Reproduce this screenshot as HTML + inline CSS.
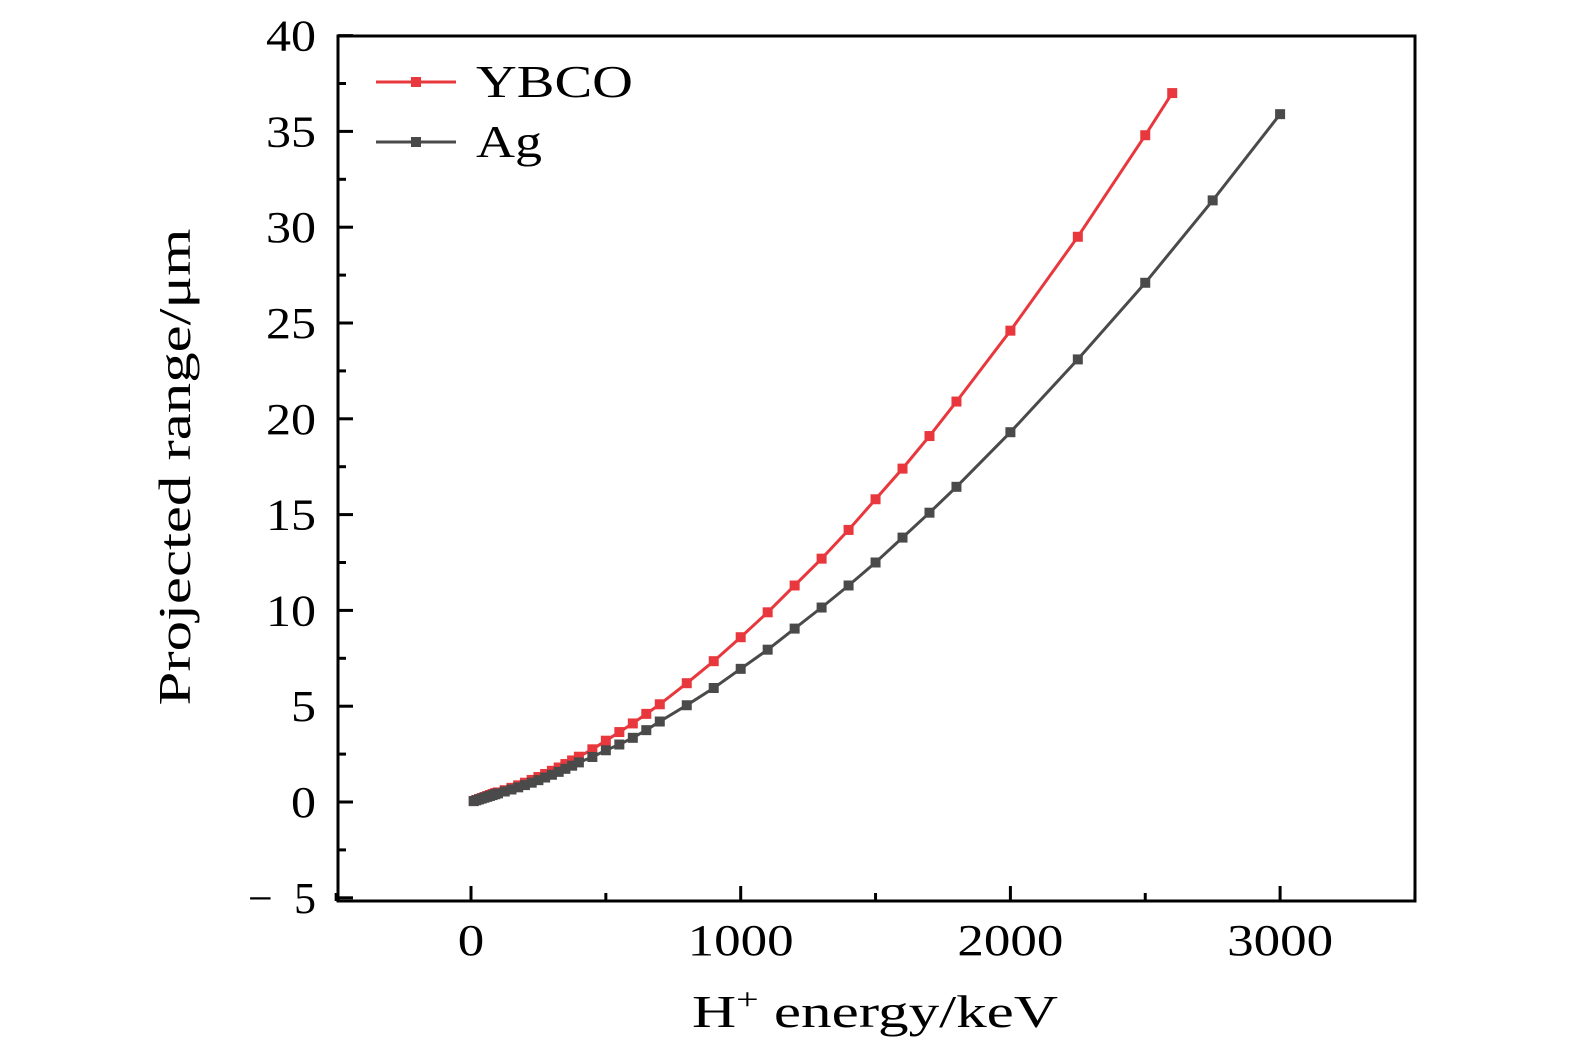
<!DOCTYPE html>
<html><head><meta charset="utf-8"><style>
html,body{margin:0;padding:0;background:#fff;}
svg{display:block;font-family:"Liberation Serif",serif;}
</style></head><body>
<svg id="s" width="1575" height="1053" viewBox="0 0 1575 1053" xmlns="http://www.w3.org/2000/svg"></svg>
<script>
const s=document.getElementById('s');
const X=v=>471+v*0.2697, Y=v=>802-v*19.16;
let h='';
h+='<rect x="338" y="36" width="1077" height="865" fill="none" stroke="#000" stroke-width="3"/>';
for(let v=-5;v<=40;v+=2.5){const y=Y(v);const maj=(v%5===0);h+=`<line x1="338" x2="${338+(maj?15:8)}" y1="${y}" y2="${y}" stroke="#000" stroke-width="3"/>`;
if(maj&&v>-5){const t=String(v);h+=`<text x="316" y="${y+15}" font-size="44" text-anchor="end" textLength="${t.length*25}" lengthAdjust="spacingAndGlyphs">${t}</text>`;}}
h+=`<text x="316" y="${Y(-5)+15}" font-size="44" text-anchor="end" textLength="68" lengthAdjust="spacing">−5</text>`;
for(let v=-500;v<=3500;v+=500){const x=X(v);const maj=(v%1000===0);h+=`<line x1="${x}" x2="${x}" y1="901" y2="${901-(maj?15:8)}" stroke="#000" stroke-width="3"/>`;
if(maj&&v>=0){const t=String(v);h+=`<text x="${x}" y="955" font-size="44" text-anchor="middle" textLength="${t.length*26.5}" lengthAdjust="spacingAndGlyphs">${t}</text>`;}}
h+=`<text x="875" y="1027" font-size="46" text-anchor="middle" textLength="366" lengthAdjust="spacingAndGlyphs">H<tspan dy="-18" font-size="30">+</tspan><tspan dy="18"> energy/keV</tspan></text>`;
h+=`<text transform="translate(190,467) rotate(-90)" font-size="46" text-anchor="middle" textLength="477" lengthAdjust="spacingAndGlyphs">Projected range/μm</text>`;
const yb=[[450,2.75],[500,3.2],[550,3.65],[600,4.1],[650,4.6],[700,5.1],[800,6.2],[900,7.35],[1000,8.6],[1100,9.9],[1200,11.3],[1300,12.7],[1400,14.2],[1500,15.8],[1600,17.4],[1700,19.1],[1800,20.9],[2000,24.6],[2250,29.5],[2500,34.8],[2600,37.0]];
const ag=[[450,2.35],[500,2.7],[550,3.0],[600,3.35],[650,3.75],[700,4.2],[800,5.05],[900,5.95],[1000,6.95],[1100,7.95],[1200,9.05],[1300,10.15],[1400,11.3],[1500,12.5],[1600,13.8],[1700,15.1],[1800,16.45],[2000,19.3],[2250,23.1],[2500,27.1],[2750,31.4],[3000,35.9]];
const ybL=[],agL=[];
for(let e=10;e<100;e+=10){ybL.push([e,e*0.0052]);agL.push([e,e*0.0045]);}
for(let e=100;e<=400;e+=25){ybL.push([e,0.5+(e-100)*0.0045+(e-100)*(e-100)*0.0000057]);agL.push([e,0.45+(e-100)*0.0038+(e-100)*(e-100)*0.0000053]);}
function ser(d,c){let p=d.map(q=>`${X(q[0]).toFixed(1)},${Y(q[1]).toFixed(1)}`).join(' ');
let r=`<polyline points="${p}" fill="none" stroke="${c}" stroke-width="3"/>`;
d.forEach(q=>r+=`<rect x="${X(q[0])-5}" y="${Y(q[1])-5}" width="10" height="10" fill="${c}"/>`);return r;}
h+=ser(ybL.concat(yb),'#e8383d');
h+=ser(agL.concat(ag),'#4a4a4a');
h+=`<line x1="376" x2="456" y1="82" y2="82" stroke="#e8383d" stroke-width="3"/><rect x="411" y="77" width="10" height="10" fill="#e8383d"/>`;
h+=`<text x="476" y="97" font-size="46" textLength="157" lengthAdjust="spacingAndGlyphs">YBCO</text>`;
h+=`<line x1="376" x2="456" y1="142" y2="142" stroke="#4a4a4a" stroke-width="3"/><rect x="411" y="137" width="10" height="10" fill="#4a4a4a"/>`;
h+=`<text x="476" y="157" font-size="46" textLength="66" lengthAdjust="spacingAndGlyphs">Ag</text>`;
s.innerHTML=h;
</script>
</body></html>
